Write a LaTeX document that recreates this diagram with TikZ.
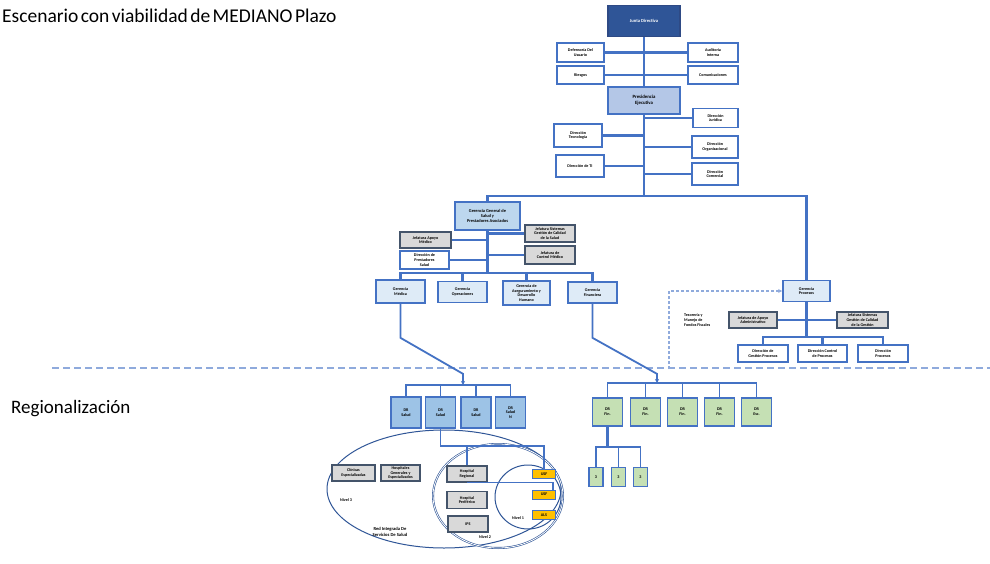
\documentclass[tikz,border=0pt]{standalone}
\usepackage{fontspec}
\setmainfont{Carlito}
\newfontfamily\titlefont[WordSpace=0.55]{Carlito}
\usetikzlibrary{arrows.meta}
\definecolor{bdr}{HTML}{4472C4}
\definecolor{jdfill}{HTML}{2F5597}
\definecolor{jdbdr}{HTML}{2E4A85}
\definecolor{pefill}{HTML}{B4C7E7}
\definecolor{ggfill}{HTML}{BDD7EE}
\definecolor{mfill}{HTML}{DEEBF7}
\definecolor{gfill}{HTML}{D9D9D9}
\definecolor{gbdr}{HTML}{44546A}
\definecolor{sfill}{HTML}{9DC3E6}
\definecolor{ffill}{HTML}{C5E0B4}
\definecolor{yfill}{HTML}{FFC000}
\definecolor{ell}{HTML}{2F5597}
\definecolor{dash}{HTML}{8FAADC}
\newcommand{\bxf}{\fontsize{4.1}{4.7}\selectfont\bfseries}
\tikzset{
  box/.style={draw=bdr, line width=1.7pt, fill=white, inner sep=0.5pt, align=center, font=\bxf, text=black},
  topbox/.style={box, draw=jdbdr, fill=jdfill, text=white, font=\fontsize{4.6}{5.4}\selectfont\bfseries},
  prbox/.style={box, fill=pefill, font=\fontsize{4.8}{5.8}\selectfont\bfseries},
  ggbox/.style={box, fill=ggfill, font=\fontsize{4.4}{5.4}\selectfont\bfseries},
  mbox/.style={box, fill=mfill},
  graybox/.style={box, draw=gbdr, fill=gfill},
  sbox/.style={box, fill=sfill, line width=1.3pt},
  fbox/.style={box, fill=ffill, line width=1.3pt},
  ybox/.style={box, fill=yfill, line width=0.9pt},
  conn/.style={draw=bdr, line width=2.1pt},
  thinconn/.style={draw=bdr, line width=1.4pt},
  arr/.style={-{Stealth[length=4pt,width=4pt]}},
  dconn/.style={draw=dash, line width=1.8pt, dash pattern=on 3pt off 2pt},
  ellline/.style={draw=ell, line width=1pt},
  lbl/.style={font=\bxf, align=center, inner sep=0pt}
}
\begin{document}
\begin{tikzpicture}[x=1pt,y=-1pt]
\useasboundingbox[fill=white] (0,0) rectangle (990,564);

% titles
\node[anchor=west, inner sep=0pt, font=\titlefont\fontsize{19.5}{21}\selectfont] (title) at (2,16) {Escenario con viabilidad de MEDIANO Plazo};
\node[anchor=west, inner sep=0pt, font=\fontsize{19}{21}\selectfont] (reg) at (11,409) {Regionalización};

% dashed separator
\coordinate (sepl) at (52,368);
\coordinate (sepr) at (990,368);
\draw[dconn, line width=2pt, dash pattern=on 7pt off 4pt] (sepl) -- (sepr);

% ---------- top ----------
\node[topbox, minimum width=72pt, minimum height=31pt] (jd) at (644,21) {Junta Directiva};
\node[box, minimum width=47pt, minimum height=19pt] (l1) at (580.5,52.5) {Defensoría Del\\Usuario};
\node[box, minimum width=47pt, minimum height=18pt] (l2) at (580.5,75) {Riesgos};
\node[box, minimum width=50pt, minimum height=19pt] (r1) at (713,52.5) {Auditoría\\Interna};
\node[box, minimum width=50pt, minimum height=18pt] (r2) at (713,75) {Comunicaciones};
\node[prbox, minimum width=72pt, minimum height=27pt] (pe) at (644,100.5) {Presidencia\\Ejecutiva};

\node[box, minimum width=45pt, minimum height=19pt] (dr1) at (715.5,118) {Dirección\\Jurídica};
\node[box, minimum width=48pt, minimum height=23pt] (dl1) at (578,135.5) {Dirección\\Tecnología};
\node[box, minimum width=46pt, minimum height=22pt] (dr2) at (715,147) {Dirección\\Organizacional};
\node[box, minimum width=48pt, minimum height=22pt] (dl2) at (580,166) {Dirección de TI};
\node[box, minimum width=46pt, minimum height=22pt] (dr3) at (715,174) {Dirección\\Comercial};

\draw[conn] (jd.south) -- (pe.north);
\draw[conn] (l1.east) -- (r1.west);
\draw[conn] (l2.east) -- (r2.west);
\coordinate (topbus) at (0,196);
\draw[conn] (pe.south) -- (pe.south |- topbus);
\draw[conn] (dr1.west) -- (dr1.west -| pe.south);
\draw[conn] (dl1.east) -- (dl1.east -| pe.south);
\draw[conn] (dr2.west) -- (dr2.west -| pe.south);
\draw[conn] (dl2.east) -- (dl2.east -| pe.south);
\draw[conn] (dr3.west) -- (dr3.west -| pe.south);

% ---------- Gerencia general ----------
\node[ggbox, minimum width=65pt, minimum height=28pt] (gg) at (487.5,216) {Gerencia General de\\Salud y\\Prestadores Asociados};
\node[graybox, minimum width=51pt, minimum height=16pt] (gl1) at (425.5,240) {Jefatura Apoyo\\Médico};
\node[box, minimum width=49pt, minimum height=18pt] (gl2) at (424.5,260) {Dirección de\\Prestadores\\Salud};
\node[graybox, minimum width=50pt, minimum height=17pt] (gr1) at (550,233.5) {Jefatura Sistemas\\Gestión de Calidad\\de la Salud};
\node[graybox, minimum width=50pt, minimum height=18pt] (gr2) at (550,255) {Jefatura de\\Control Médico};

\coordinate (mbus) at (0,273);
\draw[conn] (gg.south) -- (gg.south |- mbus);
\draw[conn] (gl1.east) -- (gl1.east -| gg.south);
\draw[conn] (gl2.east) -- (gl2.east -| gg.south);
\draw[conn] (gr1.west) -- (gr1.west -| gg.south);
\draw[conn] (gr2.west) -- (gr2.west -| gg.south);

\node[mbox, minimum width=49pt, minimum height=23pt] (m1) at (400.5,291.5) {Gerencia\\Médica};
\node[mbox, minimum width=49pt, minimum height=21pt] (m2) at (462.5,292) {Gerencia\\Operaciones};
\node[mbox, minimum width=47pt, minimum height=24pt] (m3) at (526.5,293) {Gerencia de\\Aseguramiento y\\Desarrollo\\Humano};
\node[mbox, minimum width=49pt, minimum height=21pt] (m4) at (592.5,292.5) {Gerencia\\Financiera};

\draw[conn] (m1.north) |- (m4.north |- mbus) -- (m4.north);
\draw[conn] (m2.north) -- (m2.north |- mbus);
\draw[conn] (m3.north) -- (m3.north |- mbus);

% ---------- right gerencia ----------
\node[mbox, minimum width=47pt, minimum height=21pt] (gf) at (806.5,291) {Gerencia\\Procesos};
\draw[conn] (gg.north) |- (gf.north |- topbus) -- (gf.north);
\node[graybox, minimum width=48pt, minimum height=16pt] (gfl) at (753,320) {Jefatura de Apoyo\\Administrativo};
\node[graybox, minimum width=51pt, minimum height=16pt] (gfr) at (862.5,320) {Jefatura Sistemas\\Gestión de Calidad\\de la Gestión};
\node[lbl, align=left, anchor=west] (tes) at (684,320) {Tesorería y\\Manejo de\\Fondos Fiscales};
\node[box, minimum width=50pt, minimum height=17pt] (b1) at (763,353.5) {Dirección de\\Gestión Procesos};
\node[box, minimum width=49pt, minimum height=17pt] (b2) at (822.5,353.5) {Dirección Control\\de Procesos};
\node[box, minimum width=50pt, minimum height=17pt] (b3) at (883,353.5) {Dirección\\Procesos};

\coordinate (rbus) at (0,337);
\draw[conn] (gf.south) -- (gf.south |- rbus);
\draw[conn] (gfl.east) -- (gfr.west);
\draw[conn] (b1.north) |- (b3.north |- rbus) -- (b3.north);
\draw[conn] (b2.north) -- (b2.north |- rbus);

\coordinate (dstart) at (669,369);
\draw[dconn, arr] (dstart) |- (gf.west);

% ---------- arrows down ----------
\coordinate (sarr) at (463,385);
\coordinate (farr) at (657,383);
\draw[conn, line width=1.8pt, arr] (m1.south) -- ++(0,34) -- ++(62.5,36) -- (sarr);
\draw[conn, line width=1.8pt, arr] (m4.south) -- ++(0,34) -- ++(64.5,36) -- (farr);

% ---------- DR Salud ----------
\node[sbox, minimum width=30pt, minimum height=31pt] (s1) at (406,412.5) {DR\\Salud};
\node[sbox, minimum width=30pt, minimum height=31pt] (s2) at (440.5,412.5) {DR\\Salud};
\node[sbox, minimum width=30pt, minimum height=31pt] (s3) at (476,412.5) {DR\\Salud};
\node[sbox, minimum width=30pt, minimum height=31pt] (s4) at (510.5,412.5) {DR\\Salud\\N};
\draw[thinconn] (s1.north) |- (s4.north |- sarr) -- (s4.north);
\draw[thinconn] (s2.north) -- (s2.north |- sarr);
\draw[thinconn] (s3.north) -- (s3.north |- sarr);

% ellipses
\draw[ellline] (444,489) ellipse [x radius=117, y radius=59];
\draw[ellline, double=white, double distance=0.8pt, line width=0.6pt] (498,496) ellipse [x radius=65, y radius=52];
\draw[ellline] (528,497) ellipse [x radius=33, y radius=32];

\node[graybox, minimum width=43pt, minimum height=16pt, line width=1.2pt] (c1) at (353.5,473) {Clínicas\\Especializadas};
\node[graybox, minimum width=39pt, minimum height=16pt, line width=1.2pt] (c2) at (400.5,473) {Hospitales\\Generales y\\Especializados};
\node[graybox, minimum width=40pt, minimum height=16pt, line width=1.2pt] (hr) at (467,474) {Hospital\\Regional};
\node[graybox, minimum width=40pt, minimum height=17pt, line width=1.2pt] (hp) at (467,500) {Hospital\\Periférico};
\node[graybox, minimum width=40pt, minimum height=16pt, line width=1.2pt] (ips) at (468,524) {IPS};
\node[ybox, minimum width=23pt, minimum height=9pt] (y1) at (544,474) {USF};
\node[ybox, minimum width=23pt, minimum height=9pt] (y2) at (544,494.5) {USF};
\node[ybox, minimum width=23pt, minimum height=9pt] (y3) at (544,515) {ALS};

\coordinate (hb) at (0,446);
\draw[thinconn] (s2.south) |- (y1.north |- hb) -- (y1.north);
\draw[thinconn] (hr.north) -- (hr.north |- hb);
\draw[thinconn] (hr.south) -| ([xshift=-3pt]y2.north east);

\node[lbl] (n3) at (346,500) {Nivel 3};
\node[lbl, font=\fontsize{4.6}{5.6}\selectfont\bfseries] (rn) at (390,532) {Red Integrada De\\Servicios De Salud};
\node[lbl] (n2) at (485,537) {Nivel 2};
\node[lbl] (n1) at (518,518) {Nivel 1};

% ---------- DR Fin ----------
\node[fbox, minimum width=30pt, minimum height=28pt] (f1) at (607.5,412) {DR\\Fin.};
\node[fbox, minimum width=30pt, minimum height=28pt] (f2) at (645.5,412) {DR\\Fin.};
\node[fbox, minimum width=30pt, minimum height=28pt] (f3) at (682.5,412) {DR\\Fin.};
\node[fbox, minimum width=30pt, minimum height=28pt] (f4) at (719.5,412) {DR\\Fin.};
\node[fbox, minimum width=30pt, minimum height=28pt] (f5) at (756.5,412) {DR\\Esc.};
\draw[thinconn] (f1.north) |- (f5.north |- farr) -- (f5.north);
\draw[thinconn] (f2.north) -- (f2.north |- farr);
\draw[thinconn] (f3.north) -- (f3.north |- farr);
\draw[thinconn] (f4.north) -- (f4.north |- farr);

\node[fbox, minimum width=14pt, minimum height=19pt] (t1) at (596,477) {3};
\node[fbox, minimum width=14pt, minimum height=19pt] (t2) at (618.5,477) {3};
\node[fbox, minimum width=14pt, minimum height=19pt] (t3) at (640.5,477) {3};
\coordinate (tb) at (0,447);
\draw[conn] (f1.south) -- (f1.south |- tb);
\draw[thinconn] (t1.north) |- (t3.north |- tb) -- (t3.north);
\draw[thinconn] (t2.north) -- (t2.north |- tb);
\end{tikzpicture}
\end{document}
